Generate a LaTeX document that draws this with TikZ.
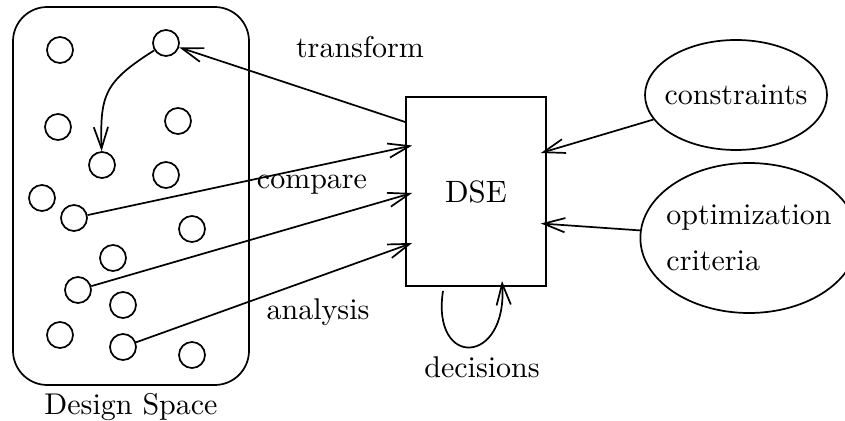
\documentclass[tikz,border=0pt]{standalone}
\usetikzlibrary{arrows.meta,shapes.geometric,calc,positioning}

\begin{document}
\begin{tikzpicture}[
        x=0.35pt, y=-0.35pt,
        line width=0.6pt,
        >={Straight Barb[length=7.5pt,width=5pt]},
        point/.style={circle, draw, minimum size=9.1pt, inner sep=0pt},
        spacebox/.style={rectangle, draw, rounded corners=12pt, minimum width=82.6pt, minimum height=132.3pt},
        dsebox/.style={rectangle, draw, minimum width=49pt, minimum height=66.2pt, font=\fontsize{10.8pt}{13pt}\selectfont},
        goal/.style={ellipse, draw, inner ysep=0pt, font=\fontsize{10.5pt}{13pt}\selectfont},
        edge_label/.style={font=\fontsize{10.5pt}{13pt}\selectfont}
    ]
        \useasboundingbox (0,0) rectangle (845,421);

        % Design space with its points
        \node[spacebox] (space) at (131,196) {};
        \node[edge_label, below=-1pt of space] (space_lbl) {Design Space};
        \foreach \n/\x/\y in {1/60/50, 2/166/43, 3/58/127, 4/178/121, 5/102/165,
                6/166/175, 7/42/198, 8/74/218, 9/192/229, 10/113/258,
                11/78/290, 12/123/305, 13/60/335, 14/123/347, 15/192/355}
            \node[point] (c\n) at (\x,\y) {};

        % DSE box and its inputs
        \node[dsebox] (dse) at (476,191.5) {DSE};
        \node[goal, inner xsep=-3pt, minimum width=63.7pt, minimum height=38.5pt] (constr) at (736,95) {constraints};
        \node[goal, inner xsep=-2pt, minimum width=75.6pt, minimum height=52.5pt, align=left] (optim) at (749,238) {optimization\\[3pt]criteria};

        \coordinate (in_cmp) at ($(dse.west)+(7,-46)$);
        \coordinate (in_mid) at ($(dse.west)+(7,1.5)$);
        \coordinate (in_ana) at ($(dse.west)+(7,51.5)$);
        \coordinate (out_tr) at ($(dse.west)+(0,-69.5)$);
        \coordinate (in_con) at ($(dse.east)+(-6,-38.5)$);
        \coordinate (in_opt) at ($(dse.east)+(-6,32)$);

        \draw[->] (out_tr) -- (c2);
        \draw[->] (c8) -- (in_cmp);
        \draw[->] (c11) -- (in_mid);
        \draw[->] (c14) -- (in_ana);
        \draw[->] (constr) -- (in_con);
        \draw[->] (optim) -- (in_opt);
        \draw[->] (c2) .. controls (104,82) and (100,95) .. (c5);

        % decisions loop
        \coordinate (loop_a) at ($(dse.south)+(-33,4)$);
        \coordinate (loop_b) at ($(dse.south)+(26,-6)$);
        \draw[->] (loop_a) .. controls +(-12,78) and +(6,85) .. (loop_b);

        % Labels
        \node[edge_label] (tr_lbl) at (360,47) {transform};
        \node[edge_label] (cmp_lbl) at (312,185) {compare};
        \node[edge_label] (ana_lbl) at (318,312) {analysis};
        \node[edge_label] (dec_lbl) at (482,367) {decisions};
\end{tikzpicture}
\end{document}
